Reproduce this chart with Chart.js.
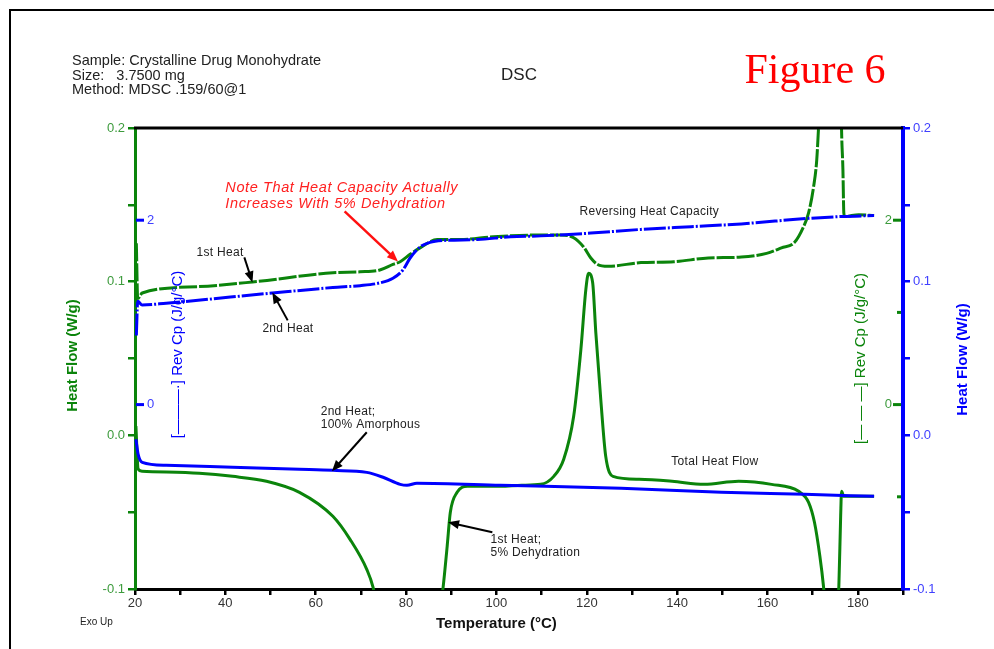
<!DOCTYPE html>
<html>
<head>
<meta charset="utf-8">
<script src="https://cdn.jsdelivr.net/npm/chart.js@4/dist/chart.umd.min.js"></script>
<style>
  html, body { margin: 0; padding: 0; background: #fff; }
  #wrap { position: relative; width: 994px; height: 649px; }
</style>
</head>
<body>
<div id="wrap"><canvas id="dsc" width="994" height="649"></canvas></div>
<script>
const FONT = "Arial, 'Liberation Sans', sans-serif";
const SERIF = "'Times New Roman', 'Liberation Serif', serif";
const GREEN = "#0b840b";
const GREEN_TXT = "#3d9b3d";
const BLUE = "#0000ff";
const BLUE_TXT = "#4040ff";

// 1st heat, total heat flow (W/g) - green solid
const hf1Temp = [20.2, 20.7, 21.6, 34.2, 41.6, 49.1, 56.4, 63.8, 67.6, 71.3, 72.7, 73.1, 80, 87.9, 88.2, 89.1, 89.8, 91.3, 93.6, 100.9, 105.6, 109.8, 112.7, 114.9, 117.1, 118.7, 119.8, 120.4, 121.3, 122.0, 123.1, 124.2, 125.8, 131.6, 138.9, 146.0, 153.6, 160.9, 166.9, 169.1, 170.4, 171.6, 172.4, 172.6, 174.0, 175.6, 175.8, 176.2, 176.4, 176.9, 183.6];
const hf1Val = [0.006, -0.022, -0.0234, -0.0247, -0.0267, -0.0299, -0.0371, -0.0527, -0.0677, -0.0872, -0.0989, -0.105, null, -0.105, -0.0989, -0.0722, -0.0501, -0.0371, -0.0332, -0.0332, -0.0325, -0.0319, -0.0267, -0.0156, 0.0124, 0.056, 0.095, 0.1054, 0.0995, 0.067, 0.0234, -0.0137, -0.0267, -0.0286, -0.0299, -0.0319, -0.0299, -0.0319, -0.0364, -0.0436, -0.0566, -0.0787, -0.0982, -0.105, null, -0.105, -0.0982, -0.0527, -0.0364, -0.0397, -0.0397];

// 2nd heat, total heat flow (W/g) - blue solid
const hf2Temp = [20.2, 20.7, 21.6, 26.9, 41.6, 56.4, 63.8, 71.3, 74.9, 78.7, 80.2, 82.4, 100.9, 127.6, 149.8, 168.2, 183.6];
const hf2Val = [-0.0026, -0.0124, -0.0176, -0.0195, -0.0208, -0.0221, -0.0228, -0.0241, -0.0273, -0.0319, -0.0325, -0.0312, -0.0325, -0.0345, -0.0371, -0.0384, -0.0397];

// 1st heat, reversing heat capacity (J/g/°C) - green dashed
const cp1Temp = [20.3, 20.6, 21.6, 34.2, 46.0, 63.8, 69.8, 74.2, 77.1, 78.7, 80.9, 83.1, 86.9, 92.0, 99.3, 109.8, 114.2, 117.1, 119.3, 120.9, 122.4, 124.7, 132.0, 139.3, 146.9, 154.2, 159.8, 163.1, 166.0, 168.0, 169.1, 170.2, 170.9, 171.3, 171.6, 174.0, 176.3, 176.4, 176.7, 176.9, 177.1, 180.2, 183.6];
const cp1Val = [1.75, 1.15, 1.21, 1.28, 1.33, 1.43, 1.44, 1.46, 1.52, 1.55, 1.63, 1.70, 1.79, 1.79, 1.82, 1.84, 1.84, 1.81, 1.71, 1.59, 1.52, 1.50, 1.54, 1.55, 1.59, 1.60, 1.64, 1.70, 1.76, 1.93, 2.08, 2.36, 2.65, 3.0, 3.3, null, 3.3, 2.98, 2.55, 2.08, 2.04, 2.06, 2.05];

// 2nd heat, reversing heat capacity (J/g/°C) - blue dash-dot
const cp2Temp = [20.3, 20.6, 21.6, 26.9, 50.4, 63.8, 69.8, 74.2, 77.1, 79.3, 80.9, 83.1, 85.3, 88.2, 95.8, 103.1, 109.8, 120.9, 132.0, 143.1, 154.2, 169.1, 176.4, 183.6];
const cp2Val = [0.75, 1.12, 1.08, 1.10, 1.21, 1.27, 1.29, 1.32, 1.37, 1.46, 1.59, 1.71, 1.76, 1.78, 1.79, 1.82, 1.83, 1.86, 1.90, 1.93, 1.96, 2.02, 2.04, 2.05];

const xTicksLabelled = 20;      // label every 20 °C, minor tick every 10
const cpTickLabels = [2, 0];
const cpMinorTicks = [1, -1];

const headerLines = ["Sample: Crystalline Drug Monohydrate", "Size:   3.7500 mg", "Method: MDSC .159/60@1"];

// annotations in data units: t = temperature, hf = heat flow
const notes = [
  { lines: ["Note That Heat Capacity Actually", "Increases With 5% Dehydration"], t: 40.0, hf: 0.1607, red: true },
  { lines: ["1st Heat"], t: 33.6, hf: 0.119 },
  { lines: ["2nd Heat"], t: 48.2, hf: 0.0696 },
  { lines: ["Reversing Heat Capacity"], t: 118.4, hf: 0.1457 },
  { lines: ["2nd Heat;", "100% Amorphous"], t: 61.1, hf: 0.0156 },
  { lines: ["Total Heat Flow"], t: 138.7, hf: -0.0169 },
  { lines: ["1st Heat;", "5% Dehydration"], t: 98.7, hf: -0.0677 },
];
const arrows = [
  { from: [66.4, 0.1457], to: [78.2, 0.1132], red: true },
  { from: [44.2, 0.1158], to: [46.0, 0.0995] },
  { from: [53.8, 0.0748], to: [50.4, 0.0930] },
  { from: [71.3, 0.0020], to: [63.6, -0.0234] },
  { from: [99.1, -0.0631], to: [89.3, -0.0566] },
];

const toPoints = (xs, ys) => xs.map((x, i) => ({ x, y: ys[i] }));

function drawArrow(ctx, x1, y1, x2, y2, color, w) {
  const ang = Math.atan2(y2 - y1, x2 - x1);
  const L = 11, H = 4.5;
  const c = Math.cos(ang), s = Math.sin(ang);
  ctx.strokeStyle = color;
  ctx.lineWidth = w;
  ctx.beginPath();
  ctx.moveTo(x1, y1);
  ctx.lineTo(x2 - L * 0.8 * c, y2 - L * 0.8 * s);
  ctx.stroke();
  ctx.fillStyle = color;
  ctx.beginPath();
  ctx.moveTo(x2, y2);
  ctx.lineTo(x2 - L * c + H * s, y2 - L * s - H * c);
  ctx.lineTo(x2 - L * c - H * s, y2 - L * s + H * c);
  ctx.closePath();
  ctx.fill();
}

function vText(ctx, text, x, y, font, color) {
  ctx.save();
  ctx.translate(x, y);
  ctx.rotate(-Math.PI / 2);
  ctx.font = font;
  ctx.fillStyle = color;
  ctx.textAlign = "center";
  ctx.textBaseline = "middle";
  ctx.fillText(text, 0, 0);
  ctx.restore();
}

const frame = {
  id: "frame",
  beforeDraw(chart) {
    const ctx = chart.ctx;
    ctx.save();
    ctx.strokeStyle = "#000";
    ctx.lineWidth = 2;
    ctx.beginPath();
    ctx.moveTo(10, 649);
    ctx.lineTo(10, 10);
    ctx.lineTo(994, 10);
    ctx.stroke();
    ctx.restore();
  },
};

const extras = {
  id: "extras",
  afterDraw(chart) {
    const { ctx, chartArea: a, scales } = chart;
    const xs = scales.x, hf = scales.hf, cp = scales.cp;
    ctx.save();

    // top border
    ctx.strokeStyle = "#000";
    ctx.lineWidth = 3;
    ctx.beginPath();
    ctx.moveTo(a.left - 1, a.top);
    ctx.lineTo(a.right, a.top);
    ctx.stroke();

    // inner Rev Cp ticks: blue on the left, green on the right
    ctx.font = "13px " + FONT;
    ctx.textBaseline = "middle";
    cpTickLabels.forEach((v) => {
      const y = cp.getPixelForValue(v);
      ctx.lineWidth = 3;
      ctx.strokeStyle = BLUE;
      ctx.beginPath(); ctx.moveTo(a.left + 1, y); ctx.lineTo(a.left + 9, y); ctx.stroke();
      ctx.fillStyle = BLUE_TXT; ctx.textAlign = "left";
      ctx.fillText(String(v), a.left + 12, y);
      ctx.strokeStyle = GREEN;
      ctx.beginPath(); ctx.moveTo(a.right - 10, y); ctx.lineTo(a.right - 2, y); ctx.stroke();
      ctx.fillStyle = GREEN_TXT; ctx.textAlign = "right";
      ctx.fillText(String(v), a.right - 11, y);
    });
    cpMinorTicks.forEach((v) => {
      const y = cp.getPixelForValue(v);
      ctx.lineWidth = 3;
      ctx.strokeStyle = GREEN;
      ctx.beginPath(); ctx.moveTo(a.right - 6, y); ctx.lineTo(a.right - 2, y); ctx.stroke();
    });

    // axis titles
    const midY = (a.top + a.bottom) / 2;
    vText(ctx, "Heat Flow (W/g)", a.left - 62, midY - 3, "bold 15px " + FONT, GREEN);
    vText(ctx, "[———·] Rev Cp (J/g/°C)", a.left + 43, midY - 4, "15px " + FONT, BLUE);
    vText(ctx, "[— — —] Rev Cp (J/g/°C)", a.right - 42, midY, "15px " + FONT, GREEN);
    vText(ctx, "Heat Flow (W/g)", a.right + 60, midY + 1, "bold 15px " + FONT, BLUE);

    ctx.font = "bold 15px " + FONT;
    ctx.fillStyle = "#111";
    ctx.textAlign = "center";
    ctx.fillText("Temperature (°C)", (xs.getPixelForValue(20) + xs.getPixelForValue(180)) / 2, 624);

    // header block
    ctx.textAlign = "left";
    ctx.fillStyle = "#222";
    ctx.font = "14.5px " + FONT;
    headerLines.forEach((s, i) => ctx.fillText(s, 72, 61 + i * 14.5));
    ctx.textAlign = "center";
    ctx.font = "17px " + FONT;
    ctx.fillText("DSC", 519, 75);
    ctx.font = "42px " + SERIF;
    ctx.fillStyle = "#ff0000";
    ctx.fillText("Figure 6", 815, 72);
    ctx.textAlign = "left";
    ctx.fillStyle = "#222";
    ctx.font = "10px " + FONT;
    ctx.fillText("Exo Up", 80, 622);

    // annotations
    notes.forEach((n) => {
      const x = xs.getPixelForValue(n.t);
      const y = hf.getPixelForValue(n.hf);
      ctx.fillStyle = n.red ? "#ff2020" : "#222";
      ctx.font = n.red ? "italic 14.5px " + FONT : "12px " + FONT;
      ctx.letterSpacing = n.red ? "0.6px" : "0.3px";
      n.lines.forEach((s, i) => ctx.fillText(s, x, y + i * (n.red ? 16 : 13)));
    });
    ctx.letterSpacing = "0px";
    arrows.forEach((r) => {
      drawArrow(ctx,
        xs.getPixelForValue(r.from[0]), hf.getPixelForValue(r.from[1]),
        xs.getPixelForValue(r.to[0]), hf.getPixelForValue(r.to[1]),
        r.red ? "#ff1010" : "#000", r.red ? 2.5 : 2);
    });
    ctx.restore();
  },
};

const lineBase = {
  pointRadius: 0,
  borderWidth: 3,
  cubicInterpolationMode: "monotone",
  spanGaps: false,
  clip: 1,
};

Chart.defaults.font.family = FONT;

new Chart(document.getElementById("dsc"), {
  type: "line",
  data: {
    datasets: [
      { ...lineBase, label: "2nd heat HF", data: toPoints(hf2Temp, hf2Val), borderColor: BLUE, yAxisID: "hf" },
      { ...lineBase, label: "2nd heat Cp", data: toPoints(cp2Temp, cp2Val), borderColor: BLUE, borderDash: [22, 2, 2, 2], yAxisID: "cp" },
      { ...lineBase, label: "1st heat HF", data: toPoints(hf1Temp, hf1Val), borderColor: GREEN, yAxisID: "hf" },
      { ...lineBase, label: "1st heat Cp", data: toPoints(cp1Temp, cp1Val), borderColor: GREEN, borderDash: [18, 2], yAxisID: "cp" },
    ],
  },
  options: {
    responsive: false,
    animation: false,
    layout: { padding: { top: 128, left: 0, right: 0, bottom: 0 } },
    plugins: { legend: { display: false }, tooltip: { enabled: false } },
    scales: {
      x: {
        type: "linear",
        position: "bottom",
        min: 20,
        max: 190,
        afterFit: (s) => { s.height = 60; },
        ticks: {
          stepSize: 10,
          autoSkip: false,
          maxRotation: 0,
          padding: 1,
          color: "#333",
          font: { size: 13 },
          callback: (v) => (v % xTicksLabelled === 0 ? String(v) : ""),
        },
        grid: { drawOnChartArea: false, tickLength: 6, color: "#000", lineWidth: 2.5 },
        border: { color: "#000", width: 3 },
      },
      hf: {
        position: "left",
        min: -0.1,
        max: 0.2,
        afterFit: (s) => { s.width = 135; },
        ticks: {
          stepSize: 0.05,
          autoSkip: false,
          padding: 3,
          color: GREEN_TXT,
          font: { size: 13 },
          callback: (v) => {
            const r = Math.round(v * 100);
            return r % 10 === 0 ? (r / 100).toFixed(1) : "";
          },
        },
        grid: { drawOnChartArea: false, tickLength: 7, color: GREEN, lineWidth: 2.5 },
        border: { color: GREEN, width: 3 },
      },
      hfR: {
        type: "linear",
        position: "right",
        min: -0.1,
        max: 0.2,
        afterFit: (s) => { s.width = 91; },
        ticks: {
          stepSize: 0.05,
          autoSkip: false,
          padding: 3,
          color: BLUE_TXT,
          font: { size: 13 },
          callback: (v) => {
            const r = Math.round(v * 100);
            return r % 10 === 0 ? (r / 100).toFixed(1) : "";
          },
        },
        grid: { drawOnChartArea: false, tickLength: 7, color: BLUE, lineWidth: 2.5 },
        border: { color: BLUE, width: 4 },
      },
      cp: { type: "linear", position: "left", display: false, min: -2, max: 3 },
    },
  },
  plugins: [frame, extras],
});
</script>
</body>
</html>
